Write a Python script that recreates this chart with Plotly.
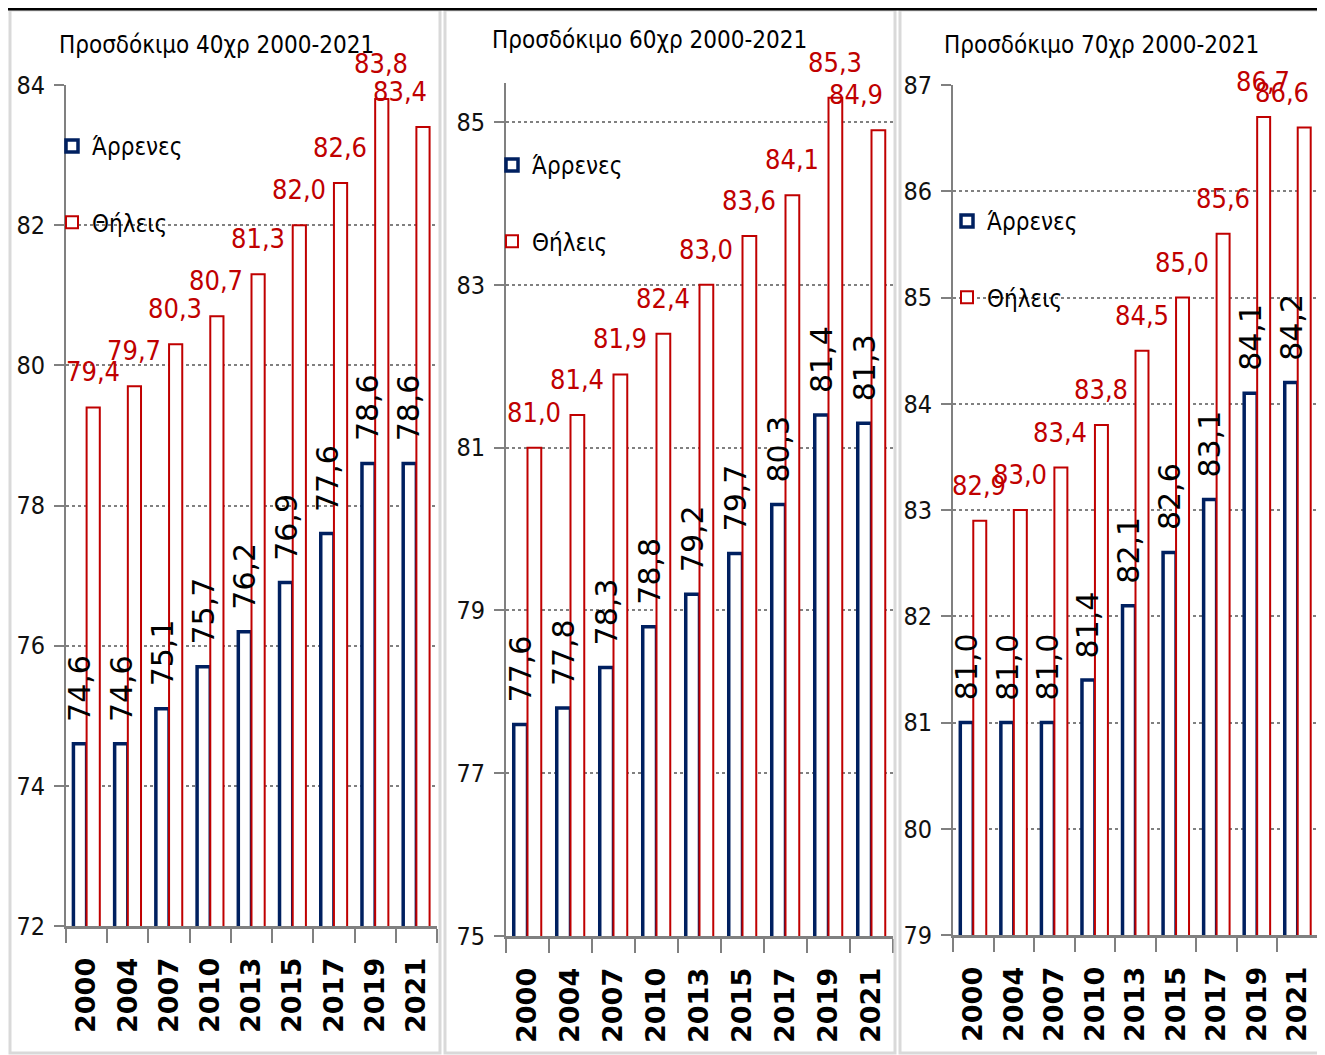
import plotly.graph_objects as go

years = ['2000', '2004', '2007', '2010', '2013', '2015', '2017', '2019', '2021']

titles = ['Προσδόκιμο 40χρ 2000-2021', 'Προσδόκιμο 60χρ 2000-2021', 'Προσδόκιμο 70χρ 2000-2021']

male_40 = [74.6, 74.6, 75.1, 75.7, 76.2, 76.9, 77.6, 78.6, 78.6]
female_40 = [79.4, 79.7, 80.3, 80.7, 81.3, 82.0, 82.6, 83.8, 83.4]

male_60 = [77.6, 77.8, 78.3, 78.8, 79.2, 79.7, 80.3, 81.4, 81.3]
female_60 = [81.0, 81.4, 81.9, 82.4, 83.0, 83.6, 84.1, 85.3, 84.9]

male_70 = [81.0, 81.0, 81.0, 81.4, 82.1, 82.6, 83.1, 84.1, 84.2]
female_70 = [82.9, 83.0, 83.4, 83.8, 84.5, 85.0, 85.6, 86.7, 86.6]

# the page body has an 8px margin, so the figure is a bit smaller than the window
OFF = 8
W, H = 1325 - OFF, 1055 - OFF
NARROW = 'Liberation Sans Narrow, DejaVu Sans Condensed, Arial Narrow, sans-serif'
WIDE = 'DejaVu Sans, Verdana, sans-serif'
NAVY = '#002060'
RED = '#C00000'
GREY = '#808080'

# pixel boxes (window coords) of each plot area: left, right, top, bottom
panels = [
    dict(box=(66, 437, 85, 926), rng=[72, 84], dtick=2, male=male_40, female=female_40,
         title_xy=(57, 45), leg_xy=(52, 124)),
    dict(box=(506, 893, 83, 936), rng=[75, 85.48], dtick=2, male=male_60, female=female_60,
         title_xy=(490, 40), leg_xy=(492, 143)),
    dict(box=(953, 1318, 85, 935), rng=[79, 87], dtick=1, male=male_70, female=female_70,
         title_xy=(942, 45), leg_xy=(947, 199)),
]


def px_x(v):
    return (v - OFF) / W


def px_y(v):
    return 1 - (v - OFF) / H


fig = go.Figure()
annotations = []
shapes = []

for i, p in enumerate(panels):
    n = '' if i == 0 else str(i + 1)
    left, right, top, bottom = p['box']
    leg = 'legend' + n
    fig.add_trace(go.Bar(
        x=years, y=p['male'], name='Άρρενες', xaxis='x' + n, yaxis='y' + n,
        marker=dict(color='white', line=dict(color=NAVY, width=3.5)),
        legend=leg, legendgroup='m' + n))
    fig.add_trace(go.Bar(
        x=years, y=p['female'], name='Θήλεις', xaxis='x' + n, yaxis='y' + n,
        marker=dict(color='white', line=dict(color=RED, width=2)),
        legend=leg, legendgroup='f' + n))

    fig.update_layout({
        'xaxis' + n: dict(
            domain=[px_x(left), px_x(right)], anchor='y' + n, type='category',
            range=[-0.5, len(years) - 0.5],
            showline=True, linecolor=GREY, linewidth=3, ticks='outside', tickson='boundaries',
            ticklen=14, tickwidth=2, tickcolor=GREY, tickangle=-90, ticklabelstandoff=18,
            tickfont=dict(family=WIDE, size=27, color='black', weight='bold'),
            showgrid=False),
        'yaxis' + n: dict(
            domain=[px_y(bottom), px_y(top)], anchor='x' + n, range=p['rng'],
            tick0=p['rng'][0], dtick=p['dtick'],
            showline=True, linecolor=GREY, linewidth=2, ticks='outside', ticklen=10,
            tickwidth=2, tickcolor=GREY, ticklabelstandoff=4,
            tickfont=dict(family=NARROW, size=25, color='#111111'),
            showgrid=True, gridcolor=GREY, gridwidth=2, griddash='dot', zeroline=False),
        leg: dict(
            x=px_x(p['leg_xy'][0]), y=px_y(p['leg_xy'][1]), xanchor='left', yanchor='top',
            bgcolor='rgba(0,0,0,0)', tracegroupgap=42, traceorder='grouped',
            font=dict(family=NARROW, size=24, color='black')),
    })

    annotations.append(dict(
        text=titles[i], xref='paper', yref='paper', x=px_x(p['title_xy'][0]), y=px_y(p['title_xy'][1]),
        xanchor='left', yanchor='middle', showarrow=False,
        font=dict(family=NARROW, size=24, color='black')))

    last = len(years) - 1
    for k, (m, f) in enumerate(zip(p['male'], p['female'])):
        annotations.append(dict(
            text=f'{m:.1f}'.replace('.', ','), xref='x' + n, yref='y' + n, x=k, y=m,
            xshift=-7, yshift=20, xanchor='center', yanchor='bottom', textangle=-90,
            showarrow=False, font=dict(family=WIDE, size=30, color='black')))
        # the last label is pulled in so it stays inside the plot area
        annotations.append(dict(
            text=f'{f:.1f}'.replace('.', ','), xref='x' + n, yref='y' + n, x=k, y=f,
            xshift=13 if k == last else 6, yshift=18,
            xanchor='right' if k == last else 'center', yanchor='bottom',
            showarrow=False, font=dict(family=NARROW, size=27, color=RED)))

# panel frames and top rule
for x0, x1 in [(10, 440), (445, 895), (900, 1322)]:
    shapes.append(dict(type='rect', xref='paper', yref='paper', x0=px_x(x0), x1=px_x(x1),
                       y0=px_y(1053), y1=px_y(10), line=dict(color='#d9d9d9', width=3)))
shapes.append(dict(type='line', xref='paper', yref='paper', x0=0, x1=1, y0=0.999, y1=0.999,
                   line=dict(color='black', width=3)))

fig.update_layout(
    width=W, height=H, margin=dict(l=0, r=0, t=0, b=0, autoexpand=False),
    paper_bgcolor='white', plot_bgcolor='white',
    barmode='group', bargap=0.36, bargroupgap=0,
    annotations=annotations, shapes=shapes,
)

fig.write_html("out.html")
